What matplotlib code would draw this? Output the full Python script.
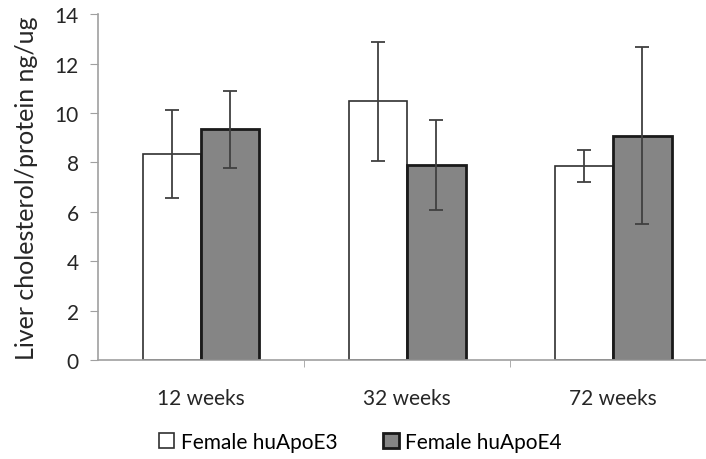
import matplotlib.pyplot as plt
import numpy as np

categories = ['12 weeks', '32 weeks', '72 weeks']
e3_values = [8.34, 10.47, 7.85]
e3_errors = [1.78, 2.40, 0.65]
e4_values = [9.35, 7.91, 9.08]
e4_errors = [1.56, 1.82, 3.58]

plt.rcParams['font.family'] = ['Lato', 'DejaVu Sans']

fig = plt.figure(figsize=(7.06, 4.6), dpi=100)
ax = fig.add_axes([0.139, 0.215, 0.861, 0.752])

x = np.arange(len(categories))
w = 0.283
err_kw = dict(ecolor='#404040', elinewidth=1.3, capsize=5, capthick=1.3)
ax.bar(x - w / 2, e3_values, w, yerr=e3_errors, color='white', edgecolor='#303030',
       linewidth=1.2, error_kw=err_kw, label='Female huApoE3')
ax.bar(x + w / 2, e4_values, w, yerr=e4_errors, color='#858585', edgecolor='#1a1a1a',
       linewidth=2, error_kw=err_kw, label='Female huApoE4')

ax.set_xlim(-0.5, 2.45)
ax.set_ylim(0, 14)
ax.set_yticks(range(0, 15, 2))
ax.set_xticks(x)
ax.set_xticklabels(categories)
ax.set_xticks([0.5, 1.5], minor=True)
ax.tick_params(axis='x', which='major', length=0, labelsize=15, pad=20, colors='#262626')
ax.tick_params(axis='x', which='minor', length=5, color='#a0a0a0')
ax.tick_params(axis='y', length=6, color='#a0a0a0', labelsize=15, colors='#262626', pad=8)
ax.tick_params(axis='y', colors='#262626', color='#a0a0a0')
ax.set_ylabel('Liver cholesterol/protein ng/ug', fontsize=18, color='#262626', labelpad=12)

for s in ['top', 'right']:
    ax.spines[s].set_visible(False)
for s in ['left', 'bottom']:
    ax.spines[s].set_color('#a0a0a0')
    ax.spines[s].set_linewidth(1.2)

fig.legend(loc='lower center', bbox_to_anchor=(0.51, -0.025), ncol=2, frameon=False,
           fontsize=15, handlelength=0.75, handleheight=0.75, handletextpad=0.3,
           columnspacing=2.2)

fig.savefig('out.png', dpi=100)
